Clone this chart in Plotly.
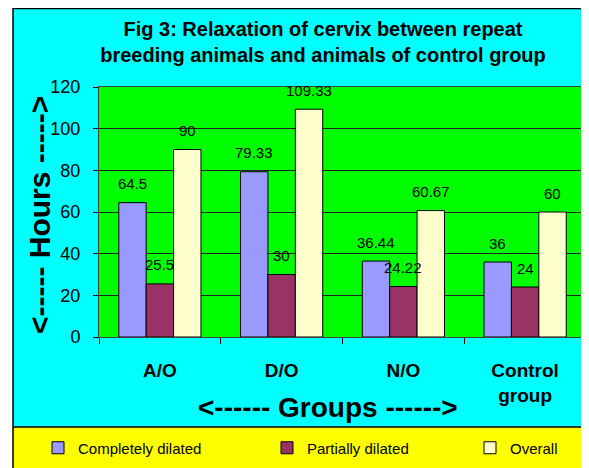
import plotly.graph_objects as go

categories = ["A/O", "D/O", "N/O", "Control<br>group"]
series_names = ["Completely dilated", "Partially dilated", "Overall"]
completely = [64.5, 79.33, 36.44, 36]
partially = [25.5, 30, 24.22, 24]
overall = [90, 109.33, 60.67, 60]
y_ticks = [0, 20, 40, 60, 80, 100, 120]

series_values = [completely, partially, overall]
colors = ["#9999FF", "#993366", "#FFFFCC"]
legend_ids = ["legend", "legend2", "legend3"]

FONT = "Liberation Sans, Arial, sans-serif"
# page body has an 8px margin; figure sized to fill the rest of the window
W, H = 581, 460
L, R, T, B = 91, 3, 79, 131
PW, PH = W - L - R, H - T - B


def px(x):
    return (x - L) / PW


def py(y):
    return (H - B - y) / PH


fig = go.Figure()
for name, vals, col, lg in zip(series_names, series_values, colors, legend_ids):
    fig.add_trace(go.Bar(
        x=categories, y=vals, name=name, legend=lg,
        marker=dict(color=col, line=dict(color="black", width=1)),
        hoverinfo="x+y",
    ))

# data labels
offs = [-27.3, 0, 27.3]
for vals, off in zip(series_values, offs):
    for c, v in zip(categories, vals):
        fig.add_annotation(x=c, y=v, text=f"{v:g}", showarrow=False,
                           xshift=off, yshift=19, yanchor="middle",
                           font=dict(family=FONT, size=15, color="black"))

# axis titles
fig.add_annotation(xref="paper", yref="paper", x=px(320), y=py(399),
                   text="<b><------ Groups ------></b>", showarrow=False,
                   xanchor="center", yanchor="middle",
                   font=dict(family=FONT, size=28, color="black"))
fig.add_annotation(xref="paper", yref="paper", x=px(31), y=py(207),
                   text="<b><----- Hours -----></b>", showarrow=False, textangle=-90,
                   xanchor="center", yanchor="middle",
                   font=dict(family=FONT, size=30, color="black"))

shapes = [
    # white strip left of the framed chart
    dict(type="rect", xref="paper", yref="paper", x0=px(-5), x1=px(5), y0=py(470), y1=py(-5),
         fillcolor="white", line=dict(width=0), layer="below"),
    # yellow legend strip
    dict(type="rect", xref="paper", yref="paper", x0=px(5), x1=px(590), y0=py(470), y1=py(419),
         fillcolor="#FFFF00", line=dict(width=0), layer="below"),
    # borders
    dict(type="line", xref="paper", yref="paper", x0=px(5), x1=px(5), y0=py(470), y1=py(0),
         line=dict(color="black", width=1.5)),
    dict(type="line", xref="paper", yref="paper", x0=px(5), x1=px(590), y0=py(0.5), y1=py(0.5),
         line=dict(color="black", width=1.5)),
    dict(type="line", xref="paper", yref="paper", x0=px(5), x1=px(590), y0=py(419), y1=py(419),
         line=dict(color="black", width=1.5)),
]

leg_common = dict(orientation="h", bgcolor="rgba(0,0,0,0)", borderwidth=0,
                  font=dict(family=FONT, size=15, color="black"),
                  xanchor="left", yanchor="middle", y=py(440), itemclick=False)

fig.update_layout(
    width=W, height=H,
    margin=dict(l=L, r=R, t=T, b=B, autoexpand=False),
    paper_bgcolor="#00FFFF",
    plot_bgcolor="#00FF00",
    barmode="group", bargap=0.325, bargroupgap=0,
    font=dict(family=FONT, color="black"),
    showlegend=True,
    title=dict(text="<b>Fig 3: Relaxation of cervix between repeat<br>breeding animals and animals of control group</b>",
               font=dict(family=FONT, size=20, color="black"),
               x=315 / W, xanchor="center", xref="container",
               y=1 - 27.5 / H, yanchor="middle", yref="container"),
    xaxis=dict(type="category", tickson="boundaries", ticks="outside", ticklen=6,
               tickcolor="black", showline=True, linecolor="#404040", mirror=True,
               tickfont=dict(family=FONT, size=19, color="black"),
               tickprefix="<b>", ticksuffix="</b>", ticklabelstandoff=16,
               automargin=False),
    yaxis=dict(range=[0, 120], tickvals=y_ticks, ticks="outside", ticklen=5,
               tickcolor="black", showgrid=True, gridcolor="#202020", gridwidth=1,
               showline=True, linecolor="#404040", mirror=True, zeroline=False,
               tickfont=dict(family=FONT, size=18, color="black"), ticklabelstandoff=9,
               automargin=False),
    shapes=shapes,
    legend=dict(leg_common, x=px(30)),
    legend2=dict(leg_common, x=px(259)),
    legend3=dict(leg_common, x=px(462)),
)

fig.write_html("out.html")
